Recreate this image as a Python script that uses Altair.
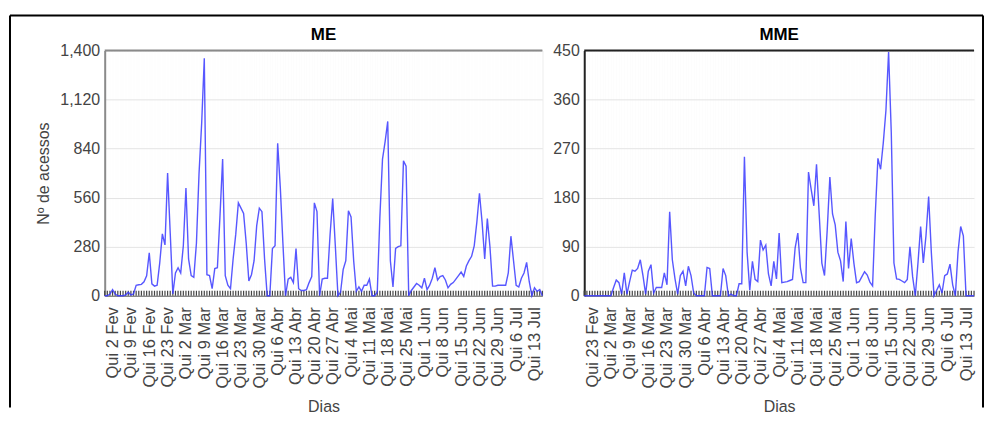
import altair as alt
import pandas as pd

# ---------------- data ----------------
me_start = "2006-01-30"
me_values = [
    0, 0,
    10, 35, 10, 0, 0, 0, 5, 20, 5, 10, 60, 63, 65, 80, 114, 245, 68, 55, 60, 188, 353, 290, 700, 358, 10, 130, 160, 130,
    285, 615, 210, 115, 105, 300, 700, 985, 1355, 120, 115, 40, 155, 160, 460, 780, 115, 60, 40, 210, 350, 530, 500, 470, 300, 85, 120, 200, 400, 500, 480,
    210, 0, 0, 270, 285, 870, 620, 300, 0, 95, 105, 75, 270, 40, 30, 30, 35, 75, 110, 530, 480, 0, 95, 100, 100, 350, 555, 285, 0, 20,
    150, 200, 485, 450, 200, 25, 50, 25, 60, 60, 95, 0, 0, 20, 450, 780, 880, 995, 200, 50, 270, 280, 285, 770, 740, 0, 30, 50, 70, 60, 45,
    100, 35, 60, 100, 160, 90, 110, 115, 90, 45, 65, 75, 95, 115, 135, 110, 170, 200, 225, 285, 420, 585, 420, 210, 440, 280, 55, 55, 60, 60,
    60, 60, 130, 340, 200, 60, 50, 100, 130, 190, 80, 0, 45, 25, 35, 0,
]

mme_start = "2006-02-20"
mme_values = [
    0, 0, 0, 0, 0, 0, 0, 0, 0, 0, 0,
    15, 29, 24, 3, 42, 3, 26, 47, 45, 50, 66, 37, 3, 45, 57, 5, 15, 15, 15, 42, 20, 154, 66, 31, 3, 37, 45, 18, 54, 37,
    5, 0, 0, 0, 0, 52, 50, 0, 0, 0, 0, 50, 37, 0, 3, 0, 0, 22, 22,
    255, 80, 10, 63, 30, 26, 102, 84, 93, 40, 18, 63, 31, 115, 24, 25, 26, 28, 30, 88, 115, 50, 24, 24,
    227, 195, 165, 241, 150, 60, 37, 120, 218, 150, 130, 80, 64, 26, 136, 50, 105, 60, 24, 26, 35, 44, 38, 25,
    18, 148, 252, 232, 280, 340, 447, 300, 60, 31, 30, 27, 24, 30, 90, 35, 0, 60, 127, 60, 110, 182, 80, 0,
    10, 20, 5, 37, 40, 58, 20, 0, 80, 127, 110, 0, 0, 0, 0,
]

me_y_ticks = [0, 280, 560, 840, 1120, 1400]
mme_y_ticks = [0, 90, 180, 270, 360, 450]
month_names = ["Jan", "Fev", "Mar", "Abr", "Mai", "Jun", "Jul", "Ago", "Set", "Out", "Nov", "Dez"]
weekday_label = "Qui"
panel_titles = ["ME", "MME"]
x_title = "Dias"
y_title = "Nº de acessos"

FONT = "Liberation Sans"
H = 246
W_LEFT = 439
W_RIGHT = 391

months_js = "[" + ",".join("'" + m + "'" for m in month_names) + "]"
label_expr = (
    "utcday(datum.value) == 4 ? '" + weekday_label + " ' + utcdate(datum.value) + ' ' + "
    + months_js + "[utcmonth(datum.value)] : ''"
)


def make_frame(start, values):
    dates = pd.date_range(start, periods=len(values), freq="D")
    df = pd.DataFrame({"dia": dates.strftime("%Y-%m-%d"), "acessos": values})
    ms = [int(d.value // 10**6) for d in dates]
    return df, ms


def panel(start, values, yticks, idx, width, show_ytitle, dark, outer):
    df, ms = make_frame(start, values)
    xscale = alt.Scale(type="utc", domain=[ms[0], ms[-1]], nice=False)
    yscale = alt.Scale(domain=[yticks[0], yticks[-1]], nice=False)
    edge = "#222222" if dark else "#8a8a8a"

    xaxis = alt.Axis(
        values=ms, labelExpr=label_expr, labelAngle=270, labelAlign="right",
        labelBaseline="middle", labelOverlap=False, labelFlush=False,
        labelFontSize=16.5, labelColor="#444444", labelPadding=11, labelFont=FONT,
        ticks=False, grid=True, gridColor="#fdfdfd", gridWidth=1,
        domainColor="#666666", title=x_title, titleFontSize=16,
        titleFontWeight="normal", titleColor="#444444", titlePadding=10, titleFont=FONT,
    )
    yaxis = alt.Axis(
        values=yticks, format=",.0f", labelFontSize=16, labelColor="#444444",
        labelPadding=5, labelFont=FONT, ticks=False, grid=True, gridColor="#e4e4e4",
        domainColor=edge, domainWidth=2,
        title=y_title if show_ytitle else "", titleFontSize=16,
        titleFontWeight="normal", titleColor="#444444", titlePadding=8, titleFont=FONT,
    )

    one = pd.DataFrame({"t": [panel_titles[idx]]})

    band = alt.Chart(df).mark_rule(color="#444444", strokeWidth=1.2).encode(
        x=alt.X("dia:T", scale=xscale, axis=xaxis),
        y=alt.value(H - 5), y2=alt.value(H),
    )
    line = alt.Chart(df).mark_line(color="#3a3aff", strokeWidth=1.4, opacity=0.85).encode(
        x=alt.X("dia:T", scale=xscale, axis=xaxis),
        y=alt.Y("acessos:Q", scale=yscale, axis=yaxis),
    )
    top = alt.Chart(one).mark_rule(color=edge, strokeWidth=2).encode(
        x=alt.value(0), x2=alt.value(width), y=alt.value(0)
    )
    title = alt.Chart(one).mark_text(
        font=FONT, fontSize=17, fontWeight="bold", color="black",
        align="center", baseline="alphabetic",
    ).encode(text="t:N", x=alt.value(width / 2), y=alt.value(-11))
    layers = [band, line, top, title]
    if outer:
        left_x, right_x, top_y, bot_y = -95, 881, -35, 358
        layers += [
            alt.Chart(one).mark_rule(color="black", strokeWidth=2).encode(
                x=alt.value(left_x), y=alt.value(top_y), y2=alt.value(bot_y)),
            alt.Chart(one).mark_rule(color="black", strokeWidth=2).encode(
                x=alt.value(right_x), y=alt.value(top_y), y2=alt.value(bot_y)),
            alt.Chart(one).mark_rule(color="black", strokeWidth=2).encode(
                x=alt.value(left_x), x2=alt.value(right_x), y=alt.value(top_y)),
        ]
    return alt.layer(*layers).properties(width=width, height=H)


left = panel(me_start, me_values, me_y_ticks, 0, W_LEFT, True, False, True)
right = panel(mme_start, mme_values, mme_y_ticks, 1, W_RIGHT, False, True, False)

chart = alt.hconcat(left, right, spacing=42, bounds="flush").properties(
    padding={"left": 0, "top": 5, "right": 0, "bottom": 0},
    background="white",
).configure_view(fill="#f4f4f4", stroke="transparent").configure(font=FONT)

chart.save("out.html", embed_options={"renderer": "svg", "actions": False})
